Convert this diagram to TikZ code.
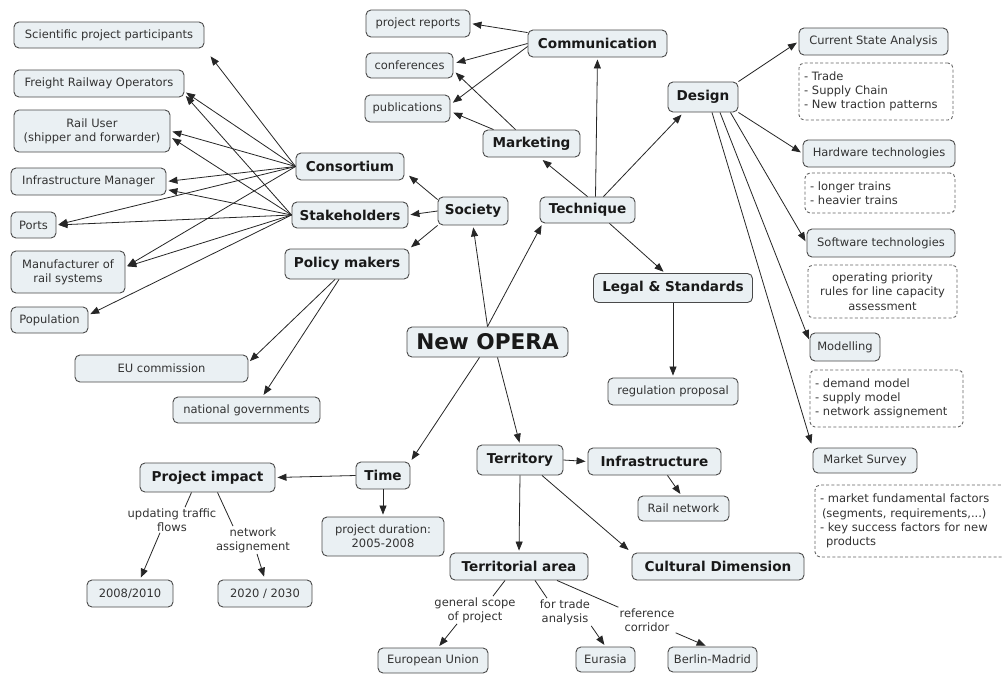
\documentclass[tikz,border=0pt]{standalone}
\usepackage{fontspec}
\setmainfont{DejaVu Sans}
\usetikzlibrary{arrows.meta}
\definecolor{boxfill}{HTML}{EAF0F3}
\definecolor{boxdraw}{HTML}{4A4A4A}
\definecolor{txt}{HTML}{333333}
\definecolor{linecol}{HTML}{262626}
\newcommand\sfnt{\fontsize{11.5}{14.3}\selectfont}
\newcommand\bfnt{\fontsize{13.6}{16}\selectfont\bfseries}
\tikzset{
  box/.style={draw=boxdraw, fill=boxfill, rounded corners=5pt, line width=0.9pt,
    inner xsep=3pt, inner ysep=2pt, font=\sfnt, text=txt, align=center},
  bbox/.style={box, font=\bfnt, text=black!90, inner xsep=2pt},
  note/.style={draw=boxdraw!85, dashed, dash pattern=on 3pt off 2.2pt, rounded corners=5pt,
    line width=0.9pt, inner xsep=5pt, inner ysep=4pt, align=left, font=\sfnt, text=txt},
  lab/.style={inner sep=1pt, font=\sfnt, align=center, text=txt},
  arr/.style={draw=linecol, line width=0.8pt, -{Triangle[length=9pt,width=7pt]}, shorten >=2pt},
  lnk/.style={draw=linecol, line width=0.8pt}
}
\begin{document}
\begin{tikzpicture}[x=1pt,y=-1pt]
\fill[white] (0,0) rectangle (1002,673);
\useasboundingbox (0,0) rectangle (1002,673);

% left column
\node[box, minimum width=190pt, minimum height=26pt] (sci) at (109,35) {Scientific project participants};
\node[box, minimum width=170pt, minimum height=27pt] (freight) at (99,83.5) {Freight Railway Operators};
\node[box, minimum width=156pt, minimum height=42pt] (railuser) at (92,131) {Rail User\\(shipper and forwarder)};
\node[box, minimum width=155pt, minimum height=27pt] (im) at (88.5,181.5) {Infrastructure Manager};
\node[box, minimum width=45pt, minimum height=26pt] (ports) at (33.5,225) {Ports};
\node[box, minimum width=114pt, minimum height=42pt] (manuf) at (68,272) {Manufacturer of\\rail systems};
\node[box, minimum width=77pt, minimum height=26pt] (pop) at (49.5,320) {Population};

\node[bbox, minimum width=108pt, minimum height=27pt] (consortium) at (350,166.5) {Consortium};
\node[bbox, minimum width=116pt, minimum height=26pt] (stake) at (350,215) {Stakeholders};
\node[bbox, minimum width=124pt, minimum height=30pt] (policy) at (347,264) {Policy makers};
\node[bbox, minimum width=70pt, minimum height=28pt] (society) at (473,211) {Society};
\node[bbox, minimum width=95pt, minimum height=26pt] (technique) at (587.5,210) {Technique};
\node[bbox, minimum width=97pt, minimum height=27pt] (marketing) at (531.5,143.5) {Marketing};
\node[bbox, minimum width=139pt, minimum height=27pt] (communication) at (597.5,43.5) {Communication};
\node[box, minimum width=104pt, minimum height=27pt] (preports) at (418,23.5) {project reports};
\node[box, minimum width=87pt, minimum height=25pt] (conf) at (409.5,65.5) {conferences};
\node[box, minimum width=85pt, minimum height=27pt] (publ) at (407.5,108.5) {publications};

\node[bbox, minimum width=70pt, minimum height=30pt] (design) at (703,97) {Design};
\node[box, minimum width=149pt, minimum height=27pt] (csa) at (873.5,41.5) {Current State Analysis};
\node[note, text width=144pt, minimum height=57pt] (note1) at (876,91.5) {- Trade\\- Supply Chain\\- New traction patterns};
\node[box, minimum width=152pt, minimum height=27pt] (hw) at (879,153.5) {Hardware technologies};
\node[note, text width=140pt, minimum height=40pt] (note2) at (880,193) {- longer trains\\- heavier trains};
\node[box, minimum width=148pt, minimum height=28pt] (sw) at (881,243) {Software technologies};
\node[note, align=center, text width=139pt, minimum height=53pt] (note3) at (882.5,291.5) {operating priority\\rules for line capacity\\assessment};
\node[box, minimum width=70pt, minimum height=28pt] (modelling) at (845,347) {Modelling};
\node[note, text width=143pt, minimum height=57pt] (note4) at (886.5,398.5) {- demand model\\- supply model\\- network assignement};
\node[box, minimum width=104pt, minimum height=25pt] (market) at (865,460.5) {Market Survey};
\node[note, text width=186pt, minimum height=72pt] (note5) at (913,521) {- market fundamental factors\\\hspace*{2pt}(segments, requirements,...)\\- key success factors for new\\\hspace*{6pt}products};

\node[bbox, minimum width=159pt, minimum height=29pt] (legal) at (673,288) {Legal \& Standards};
\node[box, minimum width=130pt, minimum height=27pt] (regulation) at (673,391.5) {regulation proposal};

\node[box, font=\fontsize{21.6}{25}\selectfont\bfseries, text=black!90, minimum width=161pt, minimum height=30pt] (opera) at (487.5,342) {New OPERA};

\node[box, minimum width=173pt, minimum height=27pt] (eu) at (161.5,368.5) {EU commission};
\node[box, minimum width=147pt, minimum height=26pt] (natgov) at (246.5,410) {national governments};

\node[bbox, minimum width=135pt, minimum height=29pt] (pimpact) at (207.5,477.5) {Project impact};
\node[box, minimum width=86pt, minimum height=27pt] (y2008) at (130,593.5) {2008/2010};
\node[box, minimum width=94pt, minimum height=27pt] (y2020) at (265,593.5) {2020 / 2030};
\node[lab] (upd) at (172,520) {updating traffic\\flows};
\node[lab] (net) at (253,540) {network\\assignement};

\node[bbox, minimum width=54pt, minimum height=27pt] (time) at (383,475.5) {Time};
\node[box, minimum width=122pt, minimum height=39pt] (duration) at (383,536.5) {project duration:\\2005-2008};

\node[bbox, minimum width=86pt, minimum height=30pt] (territory) at (520,460) {Territory};
\node[bbox, minimum width=133pt, minimum height=27pt] (infrastructure) at (654.5,461.5) {Infrastructure};
\node[box, minimum width=91pt, minimum height=25pt] (railnet) at (683.5,508.5) {Rail network};
\node[bbox, minimum width=172pt, minimum height=27pt] (cultural) at (718,566.5) {Cultural Dimension};
\node[bbox, minimum width=138pt, minimum height=27pt] (terrarea) at (519,566.5) {Territorial area};
\node[box, minimum width=110pt, minimum height=25pt] (eunion) at (433,660.5) {European Union};
\node[box, minimum width=59pt, minimum height=25pt] (eurasia) at (605.5,659.5) {Eurasia};
\node[box, minimum width=89pt, minimum height=25pt] (berlin) at (712.5,659.5) {Berlin-Madrid};
\node[lab] (gs) at (475,610) {general scope\\of project};
\node[lab] (trade) at (565,612) {for trade\\analysis};
\node[lab] (ref) at (647,620) {reference\\corridor};

% connectors: Consortium
\draw[arr, shorten >=10pt] (consortium.west) -- (sci.south east);
\draw[arr] (consortium.west) -- ([yshift=6pt]freight.south east);
\draw[arr] (consortium.west) -- (railuser.east);
\draw[arr] (consortium.west) -- (im.east);
\draw[arr] (consortium.west) -- (ports.east);
\draw[arr] (consortium.west) -- ([yshift=5pt]manuf.east);
% Stakeholders
\draw[arr] (stake.west) -- ([yshift=3pt]freight.south east);
\draw[arr] (stake.west) -- ([yshift=-6pt]railuser.east);
\draw[arr] (stake.west) -- ([yshift=-8pt]im.east);
\draw[arr] (stake.west) -- (ports.east);
\draw[arr] (stake.west) -- ([yshift=5pt]manuf.east);
\draw[arr] (stake.west) -- ([yshift=5pt]pop.east);
% Society
\draw[arr] ([yshift=-3pt]society.north west) -- ([xshift=3pt,yshift=6pt]consortium.south east);
\draw[arr] (society.west) -- (stake.east);
\draw[arr] (society.south west) -- (policy.north east);
% Policy makers
\draw[arr] ([xshift=-12pt]policy.south) -- ([yshift=6pt]eu.east);
\draw[arr] ([xshift=-8pt]policy.south) -- ([xshift=16pt]natgov.north);
% New OPERA
\draw[arr] (opera.north) -- (society.south);
\draw[arr] (opera.north) -- ([xshift=3pt]technique.south west);
\draw[arr] ([xshift=-8pt]opera.south) -- (time.north east);
\draw[arr] ([xshift=10pt]opera.south) -- (territory.north);
% Technique
\draw[arr, shorten >=4pt] (technique.north) -- ([xshift=8pt]marketing.south);
\draw[arr] ([xshift=8pt]technique.north) -- (communication.south);
\draw[arr, shorten >=3pt] ([xshift=16pt]technique.north) -- ([xshift=16pt]design.south west);
\draw[arr] ([xshift=22pt]technique.south) -- ([xshift=-8pt]legal.north);
% Marketing, Communication
\draw[arr, shorten >=3pt] ([xshift=-16pt]marketing.north) -- ([yshift=-5pt]conf.east);
\draw[arr, shorten >=3pt] ([xshift=-38pt]marketing.north) -- ([yshift=-3pt]publ.east);
\draw[arr] ([yshift=-3pt]communication.north west) -- (preports.east);
\draw[arr, shorten >=3pt] (communication.west) -- ([yshift=2pt]conf.east);
\draw[arr, shorten >=3pt] ([yshift=-3pt]communication.west) -- ([yshift=4pt]publ.east);
% Design
\draw[arr] (design.north east) -- (csa.west);
\draw[arr] (design.south east) -- (hw.west);
\draw[arr] ([xshift=-8pt]design.south east) -- (sw.west);
\draw[arr] ([xshift=17pt]design.south) -- ([yshift=6pt]modelling.west);
\draw[arr, shorten >=4pt] ([xshift=9pt]design.south) -- (market.north west);
% Legal
\draw[arr] (legal.south) -- (regulation.north);
% Territory
\draw[arr] (territory.east) -- (infrastructure.west);
\draw[arr] (territory.south) -- (terrarea.north);
\draw[arr, shorten >=4pt] ([xshift=22pt]territory.south) -- (cultural.north west);
\draw[arr] ([xshift=13pt]infrastructure.south) -- ([xshift=-2pt]railnet.north);
% Time
\draw[arr] (time.west) -- (pimpact.east);
\draw[arr] (time.south) -- (duration.north);
% Project impact linking phrases
\draw[lnk] ([xshift=-16pt]pimpact.south) -- ([xshift=13pt]upd.north);
\draw[arr] ([xshift=-12pt]upd.south) -- ([xshift=10pt]y2008.north);
\draw[lnk] ([xshift=10pt]pimpact.south) -- ([xshift=-20pt]net.north);
\draw[arr, shorten >=3pt] ([xshift=4pt]net.south) -- (y2020.north);
% Territorial area linking phrases
\draw[lnk] ([xshift=-14pt]terrarea.south) -- ([xshift=18pt]gs.north);
\draw[arr] ([xshift=-18pt]gs.south) -- ([xshift=5pt]eunion.north);
\draw[lnk] ([xshift=16pt]terrarea.south) -- ([xshift=-18pt]trade.north);
\draw[arr] (trade.south east) -- (eurasia.north);
\draw[lnk] ([xshift=38pt]terrarea.south) -- (ref.north west);
\draw[arr] (ref.south east) -- ([xshift=-5pt]berlin.north);
\end{tikzpicture}
\end{document}
